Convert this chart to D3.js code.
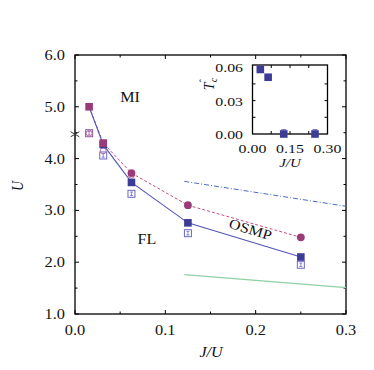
<!DOCTYPE html>
<html><head><meta charset="utf-8">
<script src="https://cdnjs.cloudflare.com/ajax/libs/d3/7.8.5/d3.min.js"></script>
<style>body{margin:0;background:#fff}svg{display:block}text{font-family:"Liberation Serif","DejaVu Serif",serif;fill:#111}</style>
</head><body><svg id="c" width="374" height="370"></svg>
<script>
// ---- data ----
const jU = [0.015625, 0.03125, 0.0625, 0.125, 0.25];
const uBlueFilled = [5.0, 4.27, 3.54, 2.76, 2.10];
const uPinkFilled = [5.0, 4.30, 3.72, 3.10, 2.48];
const uBlueOpen = [4.49, 4.06, 3.32, 2.56, 1.95];
const openCircleX = [0.015625, 0.03125, 0.0625];
const uPinkOpen = [4.49, 4.15, 3.68];
const starPoint = [[0.0, 4.47]];
const dashDotLine = [[0.121, 3.56], [0.3, 3.08]];
const greenLine = [[0.121, 1.76], [0.3, 1.51]];
const xTicks = [0.0, 0.1, 0.2, 0.3];
const yTicks = [1.0, 2.0, 3.0, 4.0, 5.0, 6.0];
const insetX = [0.03125, 0.0625, 0.125, 0.25];
const insetTc = [0.058, 0.051, 0.0, 0.0];
const insetErr = [0.0, 0.0, 0.004, 0.004];
const insetXTicks = [0.0, 0.15, 0.30];
const insetYTicks = [0.0, 0.03, 0.06];

const svg = d3.select("#c");
const pink = "#9b3a78", blue = "#3c3c98", blueOpen = "#6a6ac4";

const x = d3.scaleLinear().domain([0, 0.3]).range([75, 346]);
const y = d3.scaleLinear().domain([1, 6]).range([314, 55]);

function txt(parent, px, py, s, size, anchor, sx, italic) {
  const t = parent.append("text").attr("transform", `translate(${px},${py}) scale(${sx},1)`)
    .attr("text-anchor", anchor).attr("font-size", size).text(s);
  if (italic) t.attr("font-style", "italic");
  return t;
}

const g = svg.append("g");
g.append("rect").attr("x", 75).attr("y", 55).attr("width", 271).attr("height", 259)
  .attr("fill", "none").attr("stroke", "#000").attr("stroke-width", 1.3);

const gt = g.append("g").attr("stroke", "#000").attr("stroke-width", 1);
const xMinor = [0.05, 0.15, 0.25], yMinor = [1.5, 2.5, 3.5, 4.5, 5.5];
[[x, xTicks, 4, "b", 314], [x, xMinor, 2.5, "b", 314], [x, xTicks, 4, "t", 55], [x, xMinor, 2.5, "t", 55],
 [y, yTicks, 4, "l", 75], [y, yMinor, 2.5, "l", 75], [y, yTicks, 4, "r", 346], [y, yMinor, 2.5, "r", 346]]
 .forEach(a => a[1].forEach(v => {
   const p = a[0](v), len = a[2], o = a[3], pos = a[4];
   const l = gt.append("line");
   if (o === "b") l.attr("x1", p).attr("x2", p).attr("y1", pos).attr("y2", pos - len);
   if (o === "t") l.attr("x1", p).attr("x2", p).attr("y1", pos).attr("y2", pos + len);
   if (o === "l") l.attr("y1", p).attr("y2", p).attr("x1", pos).attr("x2", pos + len);
   if (o === "r") l.attr("y1", p).attr("y2", p).attr("x1", pos).attr("x2", pos - len);
 }));

xTicks.forEach(v => txt(g, x(v), 335, v.toFixed(1), 14, "middle", 1.17));
yTicks.forEach(v => txt(g, 65, y(v) + 5, v.toFixed(1), 14, "end", 1.17));
txt(g, 211, 357, "J/U", 14, "middle", 1.15, true);
g.append("text").attr("transform", "translate(23,186) rotate(-90) scale(1,1.15)").attr("text-anchor", "middle")
  .attr("font-size", 14).attr("font-style", "italic").text("U");

// lines
const line = d3.line().x(d => x(d[0])).y(d => y(d[1]));
g.append("path").datum(jU.map((v, i) => [v, uPinkFilled[i]])).attr("d", line)
  .attr("fill", "none").attr("stroke", "#c0508a").attr("stroke-width", 1).attr("stroke-dasharray", "3,2");
g.append("path").datum(jU.map((v, i) => [v, uBlueFilled[i]])).attr("d", line)
  .attr("fill", "none").attr("stroke", "#5555b8").attr("stroke-width", 1.1);
g.append("path").datum(dashDotLine).attr("d", line).attr("fill", "none").attr("stroke", "#4a6cc0")
  .attr("stroke-width", 1).attr("stroke-dasharray", "5,2,1,2");
g.append("path").datum(greenLine).attr("d", line).attr("fill", "none").attr("stroke", "#8fd0a6")
  .attr("stroke-width", 1.2);

// open squares with error bar
jU.forEach((v, i) => {
  const cx = x(v), cy = y(uBlueOpen[i]);
  const c = i === 0 ? "#8a5aaa" : blueOpen;
  g.append("rect").attr("x", cx - 3.5).attr("y", cy - 3.5).attr("width", 7).attr("height", 7)
    .attr("fill", "#fff").attr("stroke", c).attr("stroke-width", 1);
  g.append("path").attr("d", `M${cx - 1.5},${cy - 1.8}h3M${cx},${cy - 1.8}v3.6M${cx - 1.5},${cy + 1.8}h3`)
    .attr("stroke", c).attr("stroke-width", 0.8).attr("fill", "none");
});
// open circles
openCircleX.forEach((v, i) => {
  g.append("circle").attr("cx", x(v)).attr("cy", y(uPinkOpen[i])).attr("r", 3)
    .attr("fill", "none").attr("stroke", "#c070a0").attr("stroke-width", 1);
});
// filled blue squares
jU.forEach((v, i) => {
  if (i === 0) return;
  g.append("rect").attr("x", x(v) - 3.8).attr("y", y(uBlueFilled[i]) - 3.8).attr("width", 7.6).attr("height", 7.6)
    .attr("fill", blue);
});
// pink filled: squares for first two, circles afterwards
jU.forEach((v, i) => {
  if (i < 2) {
    g.append("rect").attr("x", x(v) - 3.8).attr("y", y(uPinkFilled[i]) - 3.8).attr("width", 7.6).attr("height", 7.6)
      .attr("fill", pink);
  } else {
    g.append("circle").attr("cx", x(v)).attr("cy", y(uPinkFilled[i])).attr("r", 3.9).attr("fill", pink);
  }
});
// star
starPoint.forEach(d => {
  const cx = x(d[0]), cy = y(d[1]);
  const s = g.append("g").attr("stroke", "#333").attr("stroke-width", 1);
  [0, 60, 120].forEach(a => {
    const r = 5, rad = a * Math.PI / 180 + Math.PI / 2;
    s.append("line").attr("x1", cx - r * Math.cos(rad)).attr("y1", cy - r * Math.sin(rad))
      .attr("x2", cx + r * Math.cos(rad)).attr("y2", cy + r * Math.sin(rad));
  });
});

// region labels
txt(g, 130, 102, "MI", 14, "middle", 1.15);
txt(g, 147, 244, "FL", 14, "middle", 1.15);
g.append("text").attr("transform", "translate(249,234) rotate(17) scale(1.15,1)").attr("text-anchor", "middle")
  .attr("font-size", 14).text("OSMP");

// ---- inset ----
const ix = d3.scaleLinear().domain([0, 0.3]).range([252.5, 327.5]);
const iy = d3.scaleLinear().domain([0, 0.062]).range([134, 65]);
const ig = svg.append("g");
ig.append("rect").attr("x", 252.5).attr("y", 65).attr("width", 75).attr("height", 69)
  .attr("fill", "none").attr("stroke", "#000").attr("stroke-width", 1.3);
const it = ig.append("g").attr("stroke", "#000").attr("stroke-width", 1);
[0.075, 0.15, 0.225].forEach(v => {
  it.append("line").attr("x1", ix(v)).attr("x2", ix(v)).attr("y1", 134).attr("y2", 131);
  it.append("line").attr("x1", ix(v)).attr("x2", ix(v)).attr("y1", 65).attr("y2", 68);
});
[0.015, 0.03, 0.045].forEach(v => {
  it.append("line").attr("y1", iy(v)).attr("y2", iy(v)).attr("x1", 252.5).attr("x2", 255.5);
  it.append("line").attr("y1", iy(v)).attr("y2", iy(v)).attr("x1", 327.5).attr("x2", 324.5);
});
insetXTicks.forEach(v => txt(ig, ix(v), 153, v.toFixed(2), 13, "middle", 1.22));
insetYTicks.forEach(v => txt(ig, 243, iy(v) + 5, v.toFixed(2), 13, "end", 1.22));
txt(ig, 290, 167, "J/U", 13, "middle", 1.15, true);
const tl = ig.append("text").attr("transform", "translate(214,84) rotate(-90)").attr("text-anchor", "middle")
  .attr("font-size", 14).attr("font-style", "italic");
tl.append("tspan").text("T");
tl.append("tspan").attr("font-size", 10).attr("dy", 3).text("c");
tl.append("tspan").attr("font-size", 10).attr("dx", -5).attr("dy", -10).text("ˆ");
insetX.forEach((v, i) => {
  if (insetErr[i] > 0) {
    ig.append("path").attr("d", `M${ix(v)},${iy(insetTc[i])}V${iy(insetErr[i])}M${ix(v) - 2.5},${iy(insetErr[i])}h5`)
      .attr("stroke", blueOpen).attr("stroke-width", 0.9).attr("fill", "none");
  }
  ig.append("rect").attr("x", ix(v) - 3.8).attr("y", iy(insetTc[i]) - 3.8).attr("width", 7.6).attr("height", 7.6)
    .attr("fill", blue);
});
</script></body></html>
